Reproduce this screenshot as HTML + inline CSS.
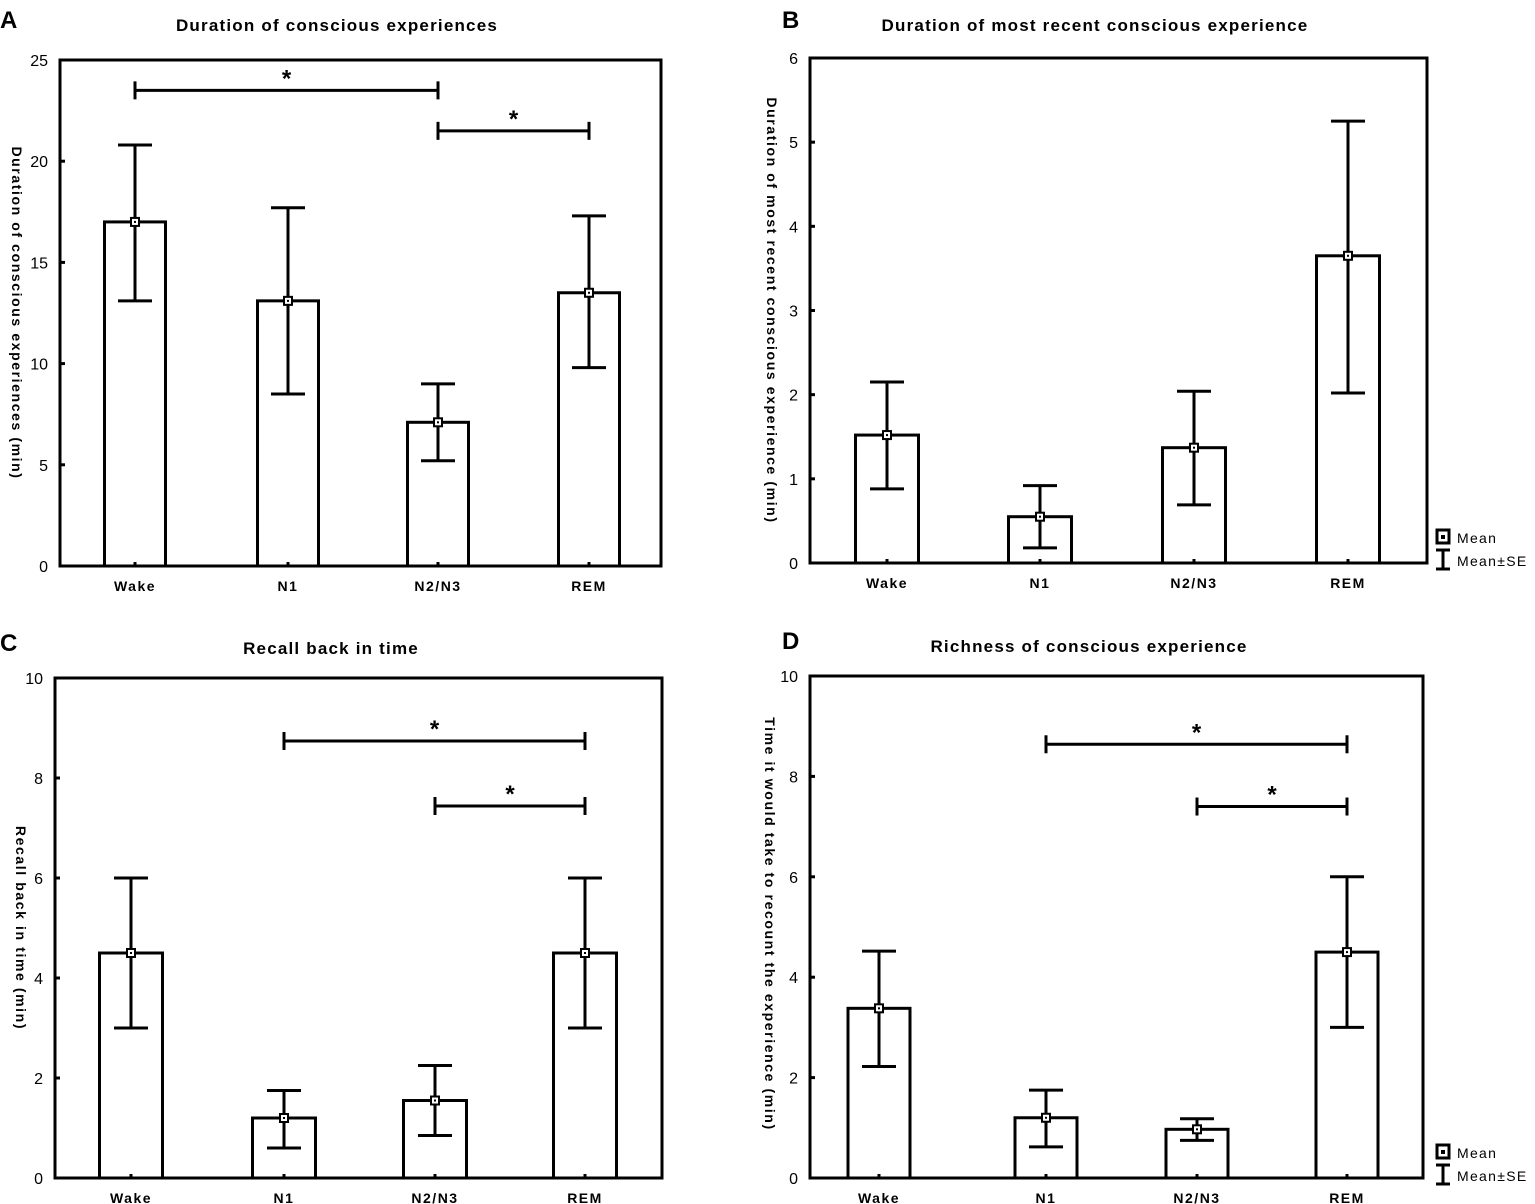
<!DOCTYPE html>
<html><head><meta charset="utf-8"><style>
html,body{margin:0;padding:0;background:#fff;}
svg{display:block;font-family:"Liberation Sans",Arial,sans-serif;}
</style></head><body>
<svg id="fig" width="1535" height="1204" viewBox="0 0 1535 1204"></svg>
<script>
const categories = ["Wake","N1","N2/N3","REM"];
const meansA = [17.0, 13.1, 7.1, 13.5];
const lowA = [13.1, 8.5, 5.2, 9.8];
const highA = [20.8, 17.7, 9.0, 17.3];
const sigA = [[0,2,23.5],[2,3,21.5]];
const ticksA = [0,5,10,15,20,25];
const meansB = [1.52, 0.55, 1.37, 3.65];
const lowB = [0.88, 0.18, 0.69, 2.02];
const highB = [2.15, 0.92, 2.04, 5.25];
const sigB = [];
const ticksB = [0,1,2,3,4,5,6];
const meansC = [4.5, 1.2, 1.55, 4.5];
const lowC = [3.0, 0.6, 0.85, 3.0];
const highC = [6.0, 1.75, 2.25, 6.0];
const sigC = [[1,3,8.74],[2,3,7.44]];
const ticksC = [0,2,4,6,8,10];
const meansD = [3.38, 1.2, 0.97, 4.5];
const lowD = [2.22, 0.62, 0.75, 3.0];
const highD = [4.52, 1.75, 1.18, 6.0];
const sigD = [[1,3,8.64],[2,3,7.4]];
const ticksD = [0,2,4,6,8,10];

const NS="http://www.w3.org/2000/svg";
const svg=document.getElementById('fig');
function mk(tag,attrs,parent,text){const e=document.createElementNS(NS,tag);for(const k in attrs)e.setAttribute(k,attrs[k]);if(text!==undefined)e.textContent=text;(parent||svg).appendChild(e);return e;}

const panels=[
 {id:'a',letter:'A',title:'Duration of conscious experiences',ylab:'Duration of conscious experiences (min)',x0:60,x1:661,y0:60,y1:566,max:25,centers:[135,288,438,589],bw:61,means:meansA,low:lowA,high:highA,sig:sigA,ticks:ticksA,tx:337,ty:31,yx:12,legend:false},
 {id:'b',letter:'B',title:'Duration of most recent conscious experience',ylab:'Duration of most recent conscious experience (min)',x0:810,x1:1427,y0:58,y1:563,max:6,centers:[887,1040,1194,1348],bw:63,means:meansB,low:lowB,high:highB,sig:sigB,ticks:ticksB,tx:1095,ty:31,yx:767,legend:true},
 {id:'c',letter:'C',title:'Recall back in time',ylab:'Recall back in time (min)',x0:55,x1:662,y0:678,y1:1178,max:10,centers:[131,284,435,585],bw:63,means:meansC,low:lowC,high:highC,sig:sigC,ticks:ticksC,tx:331,ty:654,yx:16,legend:false},
 {id:'d',letter:'D',title:'Richness of conscious experience',ylab:'Time it would take to recount the experience (min)',x0:810,x1:1423,y0:676,y1:1178,max:10,centers:[879,1046,1197,1347],bw:62,means:meansD,low:lowD,high:highD,sig:sigD,ticks:ticksD,tx:1089,ty:652,yx:765,legend:true}
];

panels.forEach(p=>{
 const g=mk('g',{});
 
 
 const Y=v=>p.y1-(v/p.max)*(p.y1-p.y0);
 const L=(x1,y1,x2,y2,w)=>mk('line',{x1,y1,x2,y2,stroke:'#000','stroke-width':w||3},g);
 const letter=mk('text',{x:p.x0<100?0:782,y:p.ty-3,'font-size':24,'font-weight':'bold'},g,p.letter);
 
 
 const t=mk('text',{x:p.tx,y:p.ty,'text-anchor':'middle','font-size':17,'font-weight':'bold','letter-spacing':1.2},g,p.title);
 
 
 const ym=(p.y0+p.y1)/2+(p.id==='d'?-3:0);
 const yl=mk('text',{x:p.yx,y:ym,'text-anchor':'middle','font-size':14,'font-weight':'bold','letter-spacing':1.6,transform:`rotate(90 ${p.yx} ${ym})`},g,p.ylab);
 
 
 p.ticks.forEach(v=>{
  const y=Y(v);
  if(v>0&&v<p.max) L(p.x0,y,p.x0+5,y,3);
  const tl=mk('text',{x:p.x0-12,y:y+6,'text-anchor':'end','font-size':16},g,String(v));
  
  
 });
 categories.forEach((c,i)=>{
  const cx=p.centers[i],hw=p.bw/2;
  const yt=Y(p.means[i]);
  const bar=mk('rect',{x:cx-hw,y:yt,width:p.bw,height:p.y1-yt,fill:'#fff',stroke:'#000','stroke-width':3},g);
  
  
  L(cx,p.y1,cx,p.y1-4,3);
  const yh=Y(p.high[i]),yl2=Y(p.low[i]);
  L(cx,yh,cx,yl2,3);
  L(cx-17,yh,cx+17,yh,3);
  L(cx-17,yl2,cx+17,yl2,3);
  const m=mk('rect',{x:cx-4,y:yt-4,width:8,height:8,fill:'#fff',stroke:'#000','stroke-width':2},g);
  
  
  mk('rect',{x:cx-1,y:yt-1,width:2,height:2,fill:'#000'},g);
  const xl=mk('text',{x:cx,y:p.y1+25,'text-anchor':'middle','font-size':14,'font-weight':'bold','letter-spacing':1.5},g,c);
  
  
 });
 p.sig.forEach(s=>{
  const xa=p.centers[s[0]],xb=p.centers[s[1]],y=Y(s[2]);
  L(xa,y,xb,y,3);L(xa,y-9,xa,y+9,3);L(xb,y-9,xb,y+9,3);
  const st=mk('text',{x:(xa+xb)/2,y:y-4,'text-anchor':'middle','font-size':24,'font-weight':'bold'},g,'*');
  
  
 });
 const box=mk('rect',{x:p.x0,y:p.y0,width:p.x1-p.x0,height:p.y1-p.y0,fill:'none',stroke:'#000','stroke-width':3},g);
 
 
 if(p.legend){
  const lg=mk('g',{},g);
  
  
  const ly=p.y1-26;
  mk('rect',{x:1437,y:ly-7,width:12,height:13,fill:'#fff',stroke:'#000','stroke-width':3},lg);
  mk('rect',{x:1441,y:ly-2,width:4,height:4,fill:'#000'},lg);
  mk('text',{x:1457,y:ly+6,'font-size':14,'letter-spacing':1.3},lg,'Mean');
  mk('line',{x1:1443,y1:ly+13,x2:1443,y2:ly+32,stroke:'#000','stroke-width':3},lg);
  mk('line',{x1:1436,y1:ly+13,x2:1450,y2:ly+13,stroke:'#000','stroke-width':3},lg);
  mk('line',{x1:1436,y1:ly+32,x2:1450,y2:ly+32,stroke:'#000','stroke-width':3},lg);
  mk('text',{x:1457,y:ly+29,'font-size':14,'letter-spacing':1.3},lg,'Mean±SE');
 }
});
</script>
</body></html>
